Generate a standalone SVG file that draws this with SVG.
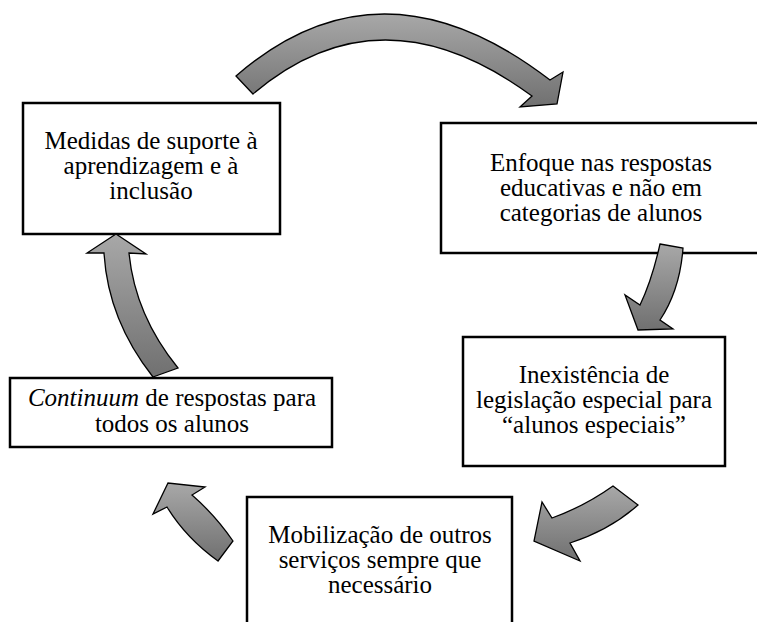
<svg xmlns="http://www.w3.org/2000/svg" width="757" height="622" viewBox="0 0 757 622">
<defs>
<linearGradient id="g" x1="0" y1="0" x2="0" y2="1">
<stop offset="0" stop-color="#a8a8a8"/>
<stop offset="1" stop-color="#707070"/>
</linearGradient>
<style>
.box{fill:#fff;stroke:#000;stroke-width:2.5}
.t{font-family:"Liberation Serif","Times New Roman",serif;font-size:25px;fill:#000;text-anchor:middle}
.arr{fill:url(#g);stroke:#000;stroke-width:1.3;stroke-linejoin:miter}
</style>
</defs>
<rect width="757" height="622" fill="#fff"/>
<g id="node-medidas">
<rect class="box" x="23" y="103" width="257" height="131"/>
<text class="t"><tspan x="151" y="149">Medidas de suporte à</tspan><tspan x="151" y="174">aprendizagem e à</tspan><tspan x="151" y="199">inclusão</tspan></text>
</g>
<g id="node-enfoque">
<rect class="box" x="441" y="123" width="322" height="130"/>
<text class="t"><tspan x="601" y="171">Enfoque nas respostas</tspan><tspan x="601" y="196">educativas e não em</tspan><tspan x="601" y="221">categorias de alunos</tspan></text>
</g>
<g id="node-inexistencia">
<rect class="box" x="463" y="337" width="262" height="129"/>
<text class="t"><tspan x="594" y="383">Inexistência de</tspan><tspan x="594" y="408">legislação especial para</tspan><tspan x="594" y="433">“alunos especiais”</tspan></text>
</g>
<g id="node-mobilizacao">
<rect class="box" x="247" y="497" width="265" height="140"/>
<text class="t"><tspan x="380" y="543">Mobilização de outros</tspan><tspan x="380" y="568">serviços sempre que</tspan><tspan x="380" y="593">necessário</tspan></text>
</g>
<g id="node-continuum">
<rect class="box" x="10" y="378" width="322" height="69"/>
<text class="t"><tspan x="172" y="406"><tspan font-style="italic">Continuum</tspan> de respostas para</tspan><tspan x="172" y="432">todos os alunos</tspan></text>
</g>
<g id="connectors">
<path class="arr" d="M236,76 Q381,-50 550,80 L563,72 L557,104 L520,107 L532,96 Q381,-15 253,94 Z"/>
<path class="arr" d="M660,244 L683,248 Q680,290 660,320 L673,329 L638,330 L625,295 L640,305 Q652,280 660,244 Z"/>
<path class="arr" d="M613,486 L638,505 Q610,530 570,543 L580,561 L534,541 L542,502 L552,518 Q585,506 613,486 Z"/>
<path class="arr" d="M218,561 L233,541 Q215,515 192,495 L205,487 L168,483 L153,514 L167,507 Q186,538 218,561 Z"/>
<path class="arr" d="M153,377 L178,368 Q135,315 129,253 L146,254 L116,234 L87,253 L104,253 Q108,320 153,377 Z"/>
</g>
</svg>
